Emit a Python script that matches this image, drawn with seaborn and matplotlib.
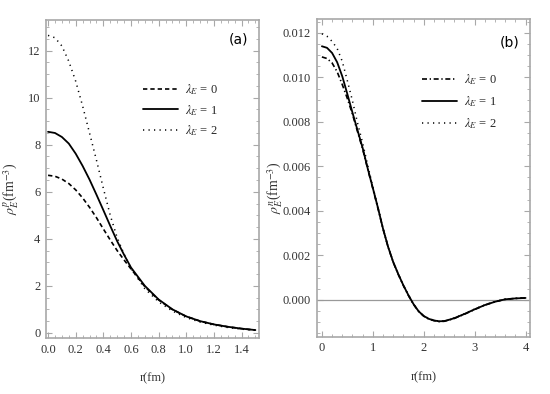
import matplotlib
matplotlib.use('AGG')
import matplotlib.pyplot as plt
import matplotlib.ticker as mticker
import pandas as pd
import seaborn as sns

# panel (a): proton density
r_a = [0.0, 0.05, 0.1, 0.15, 0.2, 0.25, 0.3, 0.35, 0.4, 0.45, 0.5, 0.55, 0.6,
       0.7, 0.8, 0.9, 1.0, 1.1, 1.2, 1.3, 1.4, 1.5]
rho_p_l0 = [6.70, 6.66, 6.54, 6.35, 6.08, 5.74, 5.34, 4.90, 4.42, 3.95, 3.50, 3.10, 2.72,
            1.97, 1.40, 0.99, 0.70, 0.50, 0.36, 0.26, 0.18, 0.12]
rho_p_l1 = [8.55, 8.50, 8.33, 8.05, 7.62, 7.10, 6.52, 5.88, 5.22, 4.55, 3.90, 3.32, 2.78,
            2.00, 1.42, 1.00, 0.70, 0.50, 0.36, 0.26, 0.18, 0.12]
rho_p_l2 = [12.65, 12.55, 12.20, 11.55, 10.70, 9.65, 8.50, 7.35, 6.15, 5.00, 4.05, 3.35, 2.75,
            1.88, 1.32, 0.93, 0.65, 0.46, 0.33, 0.23, 0.16, 0.11]

# panel (b): neutron density
r_b = [0.0, 0.1, 0.2, 0.3, 0.4, 0.5, 0.6, 0.7, 0.8, 0.9, 1.0, 1.1, 1.2, 1.3, 1.4, 1.5,
       1.6, 1.7, 1.8, 1.9, 2.0, 2.1, 2.2, 2.3, 2.4, 2.5, 2.6, 2.8, 3.0, 3.2, 3.4, 3.6, 3.8, 4.0]
rho_n_l0 = [0.01092, 0.01085, 0.01065, 0.01025, 0.00968, 0.00905, 0.00835, 0.00756, 0.00678,
            0.00588, 0.00500, 0.00412, 0.00319, 0.00237, 0.00169, 0.00114, 0.00064, 0.00019,
            -0.00021, -0.00053, -0.00074, -0.00087, -0.00094, -0.00098, -0.00097, -0.00091,
            -0.00084, -0.00065, -0.00044, -0.00024, -0.00009, 0.00002, 0.00006, 0.00008]
rho_n_l1 = [0.01140, 0.01133, 0.01110, 0.01068, 0.01005, 0.00925, 0.00842, 0.00762, 0.00683,
            0.00590, 0.00503, 0.00414, 0.00320, 0.00238, 0.00170, 0.00115, 0.00065, 0.00020,
            -0.00020, -0.00052, -0.00073, -0.00086, -0.00093, -0.00097, -0.00096, -0.00090,
            -0.00083, -0.00064, -0.00043, -0.00024, -0.00009, 0.00002, 0.00006, 0.00008]
rho_n_l2 = [0.01196, 0.01185, 0.01162, 0.01130, 0.01072, 0.00985, 0.00895, 0.00795, 0.00705,
            0.00605, 0.00508, 0.00416, 0.00322, 0.00239, 0.00171, 0.00116, 0.00066, 0.00021,
            -0.00019, -0.00051, -0.00072, -0.00085, -0.00092, -0.00096, -0.00095, -0.00089,
            -0.00082, -0.00063, -0.00042, -0.00023, -0.00008, 0.00002, 0.00006, 0.00008]

labels = [r'$\lambda_E$ = 0', r'$\lambda_E$ = 1', r'$\lambda_E$ = 2']

sns.set_style("ticks")
plt.rcParams['font.family'] = ['Liberation Serif', 'DejaVu Serif']
plt.rcParams['mathtext.fontset'] = 'stix'

frame_col = '#a8a8a8'
text_col = '#333333'

fig = plt.figure(figsize=(5.5, 3.94), dpi=100)
ax1 = fig.add_axes([0.0836, 0.142, 0.387, 0.807])
ax2 = fig.add_axes([0.576, 0.145, 0.387, 0.807])

df_a = pd.DataFrame({'r': r_a, 'l0': rho_p_l0, 'l1': rho_p_l1, 'l2': rho_p_l2})
df_b = pd.DataFrame({'r': r_b, 'l0': rho_n_l0, 'l1': rho_n_l1, 'l2': rho_n_l2})

styles_a = [(0, (2.6, 1.8)), '-', (0, (0.8, 2.8))]
styles_b = [(0, (3.0, 1.6, 0.8, 1.6)), '-', (0, (0.8, 2.8))]
widths = [1.2, 1.3, 1.1]

ax2.axhline(0, color='#999999', lw=0.9, zorder=1)

for col, ls, lw, lab in zip(['l0', 'l1', 'l2'], styles_a, widths, labels):
    sns.lineplot(x='r', y=col, data=df_a, ax=ax1, color='black', linestyle=ls, lw=lw, label=lab)
for col, ls, lw, lab in zip(['l0', 'l1', 'l2'], styles_b, widths, labels):
    sns.lineplot(x='r', y=col, data=df_b, ax=ax2, color='black', linestyle=ls, lw=lw, label=lab)

ax1.set_xlim(-0.015, 1.525)
ax1.set_ylim(-0.22, 13.3)
ax1.xaxis.set_major_locator(mticker.MultipleLocator(0.2))
ax1.xaxis.set_minor_locator(mticker.MultipleLocator(0.05))
ax1.yaxis.set_major_locator(mticker.MultipleLocator(2))
ax1.yaxis.set_minor_locator(mticker.MultipleLocator(0.5))
ax1.xaxis.set_major_formatter(mticker.FormatStrFormatter('%.1f'))

ax2.set_xlim(-0.1, 4.08)
ax2.set_ylim(-0.00167, 0.01263)
ax2.xaxis.set_major_locator(mticker.MultipleLocator(1))
ax2.xaxis.set_minor_locator(mticker.MultipleLocator(0.2))
ax2.yaxis.set_major_locator(mticker.MultipleLocator(0.002))
ax2.yaxis.set_minor_locator(mticker.MultipleLocator(0.0005))
ax2.yaxis.set_major_formatter(mticker.FormatStrFormatter('%.3f'))

for ax in (ax1, ax2):
    for sp in ax.spines.values():
        sp.set_color(frame_col)
        sp.set_linewidth(1.2)
    ax.tick_params(which='both', direction='in', top=True, right=True,
                   color=frame_col, labelcolor=text_col, labelsize=9, pad=4)
    ax.tick_params(which='major', length=4, width=0.8)
    ax.tick_params(which='minor', length=2.2, width=0.6)
    ax.set_xlabel('r(fm)', fontsize=9, color=text_col, labelpad=12)

ax1.set_ylabel(r'$\rho_E^p$(fm$^{-3}$)', fontsize=10, color=text_col)
ax2.set_ylabel(r'$\rho_E^n$(fm$^{-3}$)', fontsize=10, color=text_col)
ax1.yaxis.set_label_coords(-0.122, 0.47)
ax2.yaxis.set_label_coords(-0.155, 0.47)

ax1.legend(loc='upper left', bbox_to_anchor=(0.43, 0.82), frameon=False, fontsize=9,
           handlelength=2.8, handletextpad=0.6, labelspacing=0.45, borderaxespad=0)
ax2.legend(loc='upper left', bbox_to_anchor=(0.47, 0.847), frameon=False, fontsize=9,
           handlelength=2.8, handletextpad=0.6, labelspacing=0.55, borderaxespad=0)

ax1.text(0.95, 0.94, '(a)', transform=ax1.transAxes, ha='right', va='center',
         fontsize=10, family='DejaVu Sans', color='black')
ax2.text(0.95, 0.925, '(b)', transform=ax2.transAxes, ha='right', va='center',
         fontsize=10, family='DejaVu Sans', color='black')

plt.savefig('out.png', dpi=100)
